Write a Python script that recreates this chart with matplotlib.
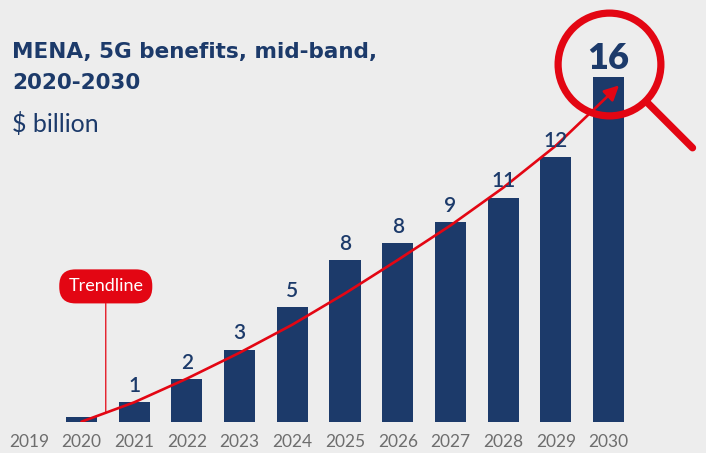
import matplotlib
matplotlib.use("Agg")
import numpy as np
import matplotlib.pyplot as plt

years = [2020, 2021, 2022, 2023, 2024, 2025, 2026, 2027, 2028, 2029, 2030]
values = [0.22, 0.91, 1.98, 3.33, 5.32, 7.5, 8.29, 9.26, 10.38, 12.28, 16.0]
labels = ["", "1", "2", "3", "5", "8", "8", "9", "11", "12", "16"]
tick_years = [2019, 2020, 2021, 2022, 2023, 2024, 2025, 2026, 2027, 2028, 2029, 2030]

trend_years = [2020, 2021, 2022, 2023, 2024, 2025, 2026, 2027, 2028, 2029]
trend_vals = [0.0, 0.9, 2.0, 3.2, 4.5, 5.95, 7.5, 9.1, 10.85, 12.8]
arrow_end = (2030.2, 15.6)

title_lines = ["MENA, 5G benefits, mid-band,", "2020-2030"]
unit = "$ billion"

navy = "#1c3a6a"
red = "#e30613"
bg = "#ededed"
grey = "#6e6e6e"

plt.rcParams["font.family"] = ["Lato", "DejaVu Sans"]

fig = plt.figure(figsize=(7.06, 4.53), dpi=100, facecolor=bg)
ax = fig.add_axes([0, 31.3 / 453, 1, 421.7 / 453])
ax.set_facecolor(bg)
ax.set_xlim(2018.453, 2018.453 + 706 / 52.7)
ax.set_ylim(0, 421.7 / 21.56)
for s in ax.spines.values():
    s.set_visible(False)
ax.set_yticks([])
ax.set_xticks(tick_years)
ax.set_xticklabels([str(y) for y in tick_years], fontsize=12.5, color=grey)
ax.tick_params(axis="x", length=0, pad=9)

ax.bar(years, values, width=0.59, color=navy, zorder=2)

for x, v, t in zip(years, values, labels):
    if t == "":
        continue
    if t == "16":
        ax.annotate(t, (x, v), xytext=(0, 5.5), textcoords="offset points",
                    ha="center", va="baseline", fontsize=26, fontweight="heavy",
                    color=navy, zorder=5)
    else:
        ax.annotate(t, (x, v), xytext=(0, 7.5), textcoords="offset points",
                    ha="center", va="baseline", fontsize=15, fontweight="semibold",
                    color=navy, zorder=5)

# trendline
ax.plot(trend_years, trend_vals, color=red, lw=1.9, zorder=3, solid_capstyle="round")
ax.annotate("", xy=arrow_end, xytext=(trend_years[-1], trend_vals[-1]),
            arrowprops=dict(arrowstyle="-|>", mutation_scale=22, color=red, lw=1.9,
                            shrinkA=0, shrinkB=0), zorder=3)

tx = 2020.46
ty = np.interp(tx, trend_years, trend_vals)
ax.annotate("Trendline", xy=(tx, ty), xytext=(0, 91), textcoords="offset points",
            ha="center", va="center", fontsize=13, color="white",
            bbox=dict(boxstyle="round,pad=0.5,rounding_size=0.9", fc=red, ec="none"),
            arrowprops=dict(arrowstyle="-", color=red, lw=0.9, shrinkA=0, shrinkB=0),
            zorder=4)

# magnifying glass around the 2030 value
cx, cy = years[-1], 16.6
ax.plot([cx], [cy], marker="o", markersize=74, markerfacecolor="none",
        markeredgecolor=red, markeredgewidth=5.2, zorder=4)
ax.annotate("", xy=(cx, cy), xytext=(60.5, -60.5), textcoords="offset points",
            arrowprops=dict(arrowstyle="-", color=red, lw=5.2, shrinkA=0, shrinkB=39.5,
                            capstyle="round"), zorder=4)

for i, line in enumerate(title_lines):
    fig.text(12 / 706, 1 - (58 + 31 * i) / 453, line, fontsize=15.5,
             fontweight="bold", color=navy, va="baseline", ha="left",
             family="DejaVu Sans")
fig.text(12 / 706, 1 - 132 / 453, unit, fontsize=18, fontweight="normal",
         color=navy, va="baseline", ha="left")

fig.savefig("out.png", dpi=100, facecolor=bg)
